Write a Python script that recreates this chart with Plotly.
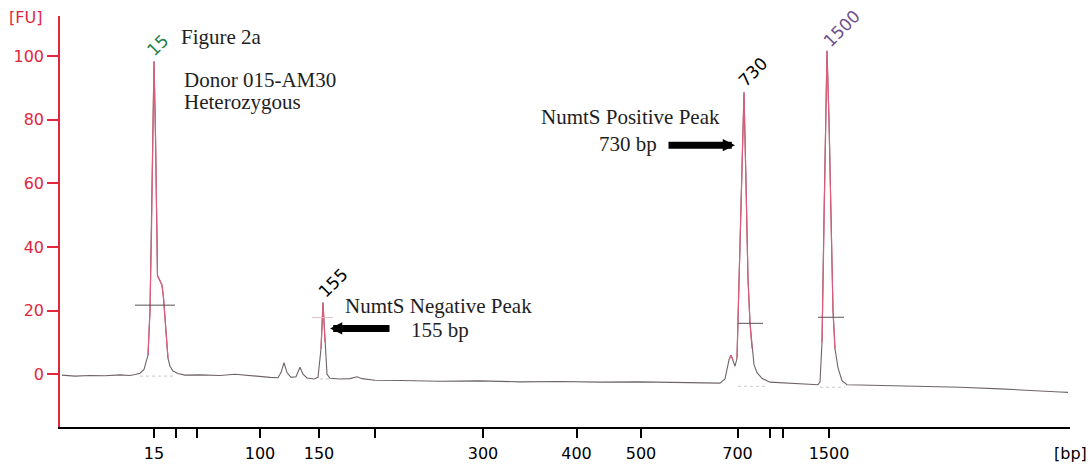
import numpy as np
import plotly.graph_objects as go

# ---------------- data ----------------
# electropherogram trace: migration position (a.u.) and fluorescence [FU]
migration_pos = [2, 15, 30, 45, 60, 70, 75, 80, 84, 86, 88, 90, 91.5, 93, 94, 95.5, 96.5,
                 97.5, 99, 102, 103.5, 104.5, 106, 108, 110, 113, 118, 125, 140, 160, 175,
                 190, 200, 210, 218, 221, 224, 227, 231, 236, 240, 243, 247, 254, 258, 261,
                 263, 265, 267, 270, 280, 290, 297, 302, 315, 340, 380, 420, 460, 500, 540,
                 580, 610, 660, 665, 669, 671, 673, 675, 677, 680, 684, 686, 688, 690, 692,
                 694, 697, 702, 710, 730, 750, 758, 760, 762, 764, 767, 769, 771, 773, 775,
                 778, 782, 787, 800, 830, 860, 900, 940, 970, 1000, 1008]
signal_fu = [-0.3, -0.6, -0.4, -0.5, -0.2, -0.4, -0.1, 0.3, 1.5, 3.5, 6, 20, 45, 80, 98.4, 75, 45,
             31, 30, 28, 24, 20, 12, 5, 2.5, 1, 0.2, -0.3, -0.2, -0.4, 0,
             -0.5, -0.8, -1.0, -1.1, 0.5, 3.6, 0.5, -1.0, -0.8, 2.2, 0.0, -1.2, -1.5, -1.0, 8,
             22.5, 10, 0, -1.3, -1.5, -1.4, -0.8, -1.4, -1.9, -2.0, -2.2, -2.1, -2.4, -2.3, -2.5,
             -2.4, -2.6, -2.8, -1.5, 4.5, 6.0, 4.5, 2.5, 5, 40, 88.6, 60, 30, 16, 8,
             3, 0.5, -1.3, -2.5, -2.8, -3.2, -3.3, -2.5, 10, 50, 101.7, 80, 45, 20, 8,
             2, -2, -3.3, -3.4, -3.6, -3.9, -4.1, -4.6, -5.2, -5.6, -5.7]

# size ladder (bp) and its migration positions
ladder_bp = [15, 25, 50, 100, 150, 200, 300, 400, 500, 700, 850, 1000, 1500]
ladder_pos = [94, 115.5, 137, 200, 259, 315, 423, 516.5, 581, 677.5, 710, 723, 769]
ladder_labelled = [True, False, False, True, True, False, True, True, True, True, False, False, True]

# called peaks
peak_labels = ["15", "155", "730", "1500"]
peak_pos = [94, 263, 684, 767]
peak_height = [98.4, 22.5, 88.6, 101.7]
# peak start/end marker levels and extents
peak_mark_start = [75, 252, 678, 758]
peak_mark_end = [115, 273, 703, 784]
peak_mark_level = [21.7, 17.8, 16.0, 17.9]
peak_base_start = [80, 260, 678, 760]
peak_base_end = [115, 270, 705, 785]
peak_base_level = [-0.6, -1.5, -3.8, -4.1]

# ---------------- styles ----------------
RED = "rgb(226,38,62)"
PEAK_RED = "rgb(222,92,122)"
GREY = "rgb(110,100,102)"
label_colors = ["rgb(40,130,70)", "black", "black", "rgb(110,80,140)"]
label_shift = [(4, 16), (10, 19.5), (9, 20), (14, 22)]

x = np.array(migration_pos, dtype=float)
y = np.array(signal_fu, dtype=float)

fig = go.Figure()

# baseline markers under peaks (dotted light grey)
for s, e, lv in zip(peak_base_start, peak_base_end, peak_base_level):
    fig.add_trace(go.Scatter(x=[s, e], y=[lv, lv], mode="lines",
                             line=dict(color="rgb(200,200,200)", width=1, dash="dot"),
                             hoverinfo="skip"))

# whole trace in grey
fig.add_trace(go.Scatter(x=x, y=y, mode="lines", line=dict(color=GREY, width=1.1),
                         hoverinfo="skip"))
# peak flanks overlaid in red
red_y = np.where(y >= 4, y, np.nan)
fig.add_trace(go.Scatter(x=x, y=red_y, mode="lines", connectgaps=False,
                         line=dict(color=PEAK_RED, width=1.2), hoverinfo="skip"))

# peak start/end markers
for i, (s, e, lv) in enumerate(zip(peak_mark_start, peak_mark_end, peak_mark_level)):
    col = "rgb(90,80,80)" if i != 1 else "rgb(225,190,195)"
    fig.add_trace(go.Scatter(x=[s, e], y=[lv, lv], mode="lines",
                             line=dict(color=col, width=1), hoverinfo="skip"))

# rotated peak labels
for lab, px, ph, col, (dx, dy) in zip(peak_labels, peak_pos, peak_height, label_colors, label_shift):
    fig.add_annotation(x=px, y=ph, text=lab, showarrow=False, textangle=-45,
                       xshift=dx, yshift=dy, xanchor="center", yanchor="middle",
                       font=dict(family="DejaVu Sans", size=17, color=col))

serif = dict(family="Liberation Serif", size=21, color="rgb(30,30,30)")
texts = [
    ("Figure 2a", 119, 106.0),
    ("Donor 015-AM30", 122, 92.5),
    ("Heterozygous", 122, 85.5),
    ("NumtS Negative Peak", 283, 21.4),
    ("155 bp", 349, 13.8),
    ("NumtS Positive Peak", 479, 80.8),
    ("730 bp", 537, 72.3),
]
for t, tx, ty in texts:
    fig.add_annotation(x=tx, y=ty, text=t, showarrow=False, xanchor="left",
                       yanchor="middle", font=serif)

# arrows
fig.add_annotation(x=270, y=14.4, ax=61, ay=0, text="", showarrow=True,
                   arrowhead=2, arrowsize=0.35, arrowwidth=7, arrowcolor="black", standoff=0)
fig.add_annotation(x=675, y=72.0, ax=-68, ay=0, text="", showarrow=True,
                   arrowhead=2, arrowsize=0.35, arrowwidth=7, arrowcolor="black", standoff=0)

# axis unit labels
fig.add_annotation(xref="paper", yref="paper", x=-0.034, y=1, yshift=-1, text="[FU]",
                   showarrow=False, xanchor="center", yanchor="middle",
                   font=dict(family="DejaVu Sans", size=16, color=RED))
fig.add_annotation(xref="paper", yref="paper", x=1, y=0, yshift=-26, text="[bp]",
                   showarrow=False, xanchor="center", yanchor="middle",
                   font=dict(family="DejaVu Sans", size=16, color="black"))

ticktext = [str(b) if l else "" for b, l in zip(ladder_bp, ladder_labelled)]

fig.update_layout(
    width=1092, height=467,
    margin=dict(l=60, r=22, t=16, b=40, autoexpand=False),
    plot_bgcolor="white", paper_bgcolor="white",
    showlegend=False,
    xaxis=dict(range=[0, 1010], tickmode="array", tickvals=ladder_pos, ticktext=ticktext,
               showline=True, linecolor="black", linewidth=1.5, ticks="outside",
               ticklen=9, tickwidth=1.5, tickcolor="black", showgrid=False, zeroline=False,
               ticklabelstandoff=2, automargin=False,
               tickfont=dict(family="DejaVu Sans", size=16, color="black")),
    yaxis=dict(range=[-16.6, 112.6], tickmode="array", tickvals=[0, 20, 40, 60, 80, 100],
               showline=True, linecolor=RED, linewidth=1.5, ticks="outside",
               ticklen=11, tickwidth=1.5, tickcolor=RED, showgrid=False, zeroline=False,
               automargin=False,
               tickfont=dict(family="DejaVu Sans", size=16, color=RED)),
)

fig.write_html("out.html")
